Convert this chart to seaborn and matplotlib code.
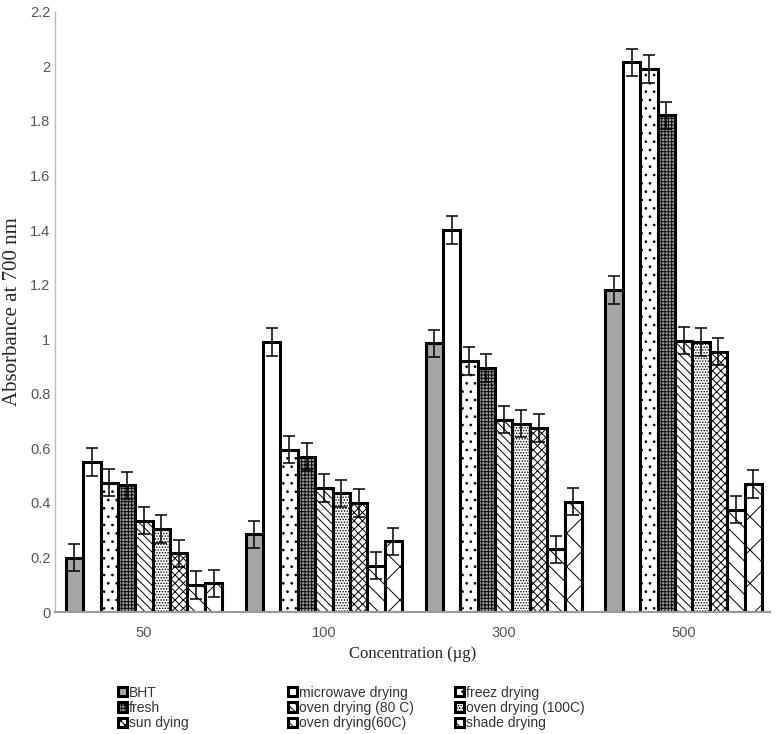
import pandas as pd
import numpy as np
import matplotlib
matplotlib.use("Agg")
import matplotlib.pyplot as plt
import seaborn as sns
from matplotlib.ticker import FuncFormatter, MultipleLocator

# Data
concentrations = ["50", "100", "300", "500"]
treatments = ["BHT", "microwave drying", "freez drying", "fresh", "oven drying (80 C)",
              "oven drying (100C)", "sun dying", "oven drying(60C)", "shade drying"]

bht = [0.20, 0.285, 0.985, 1.18]
microwave = [0.55, 0.99, 1.40, 2.015]
freez = [0.475, 0.595, 0.92, 1.99]
fresh = [0.465, 0.57, 0.895, 1.82]
oven80 = [0.335, 0.455, 0.705, 0.995]
oven100 = [0.305, 0.435, 0.69, 0.99]
sun = [0.215, 0.40, 0.675, 0.955]
oven60 = [0.10, 0.17, 0.23, 0.375]
shade = [0.105, 0.26, 0.405, 0.47]
errors = [0.05, 0.05, 0.05, 0.05]

series = [bht, microwave, freez, fresh, oven80, oven100, sun, oven60, shade]

faces = ["#a6a6a6", "white", "white", "#a0a0a0", "white", "white", "white", "white", "white"]
hatches = [None, None, "..", "+++++", "\\\\\\\\", "......", "xxxx", "\\\\", "x"]

rows = []
for name, vals in zip(treatments, series):
    for c, v in zip(concentrations, vals):
        rows.append({"conc": c, "treatment": name, "value": v})
df = pd.DataFrame(rows)

sns.set_theme(style="white")
plt.rcParams["hatch.linewidth"] = 0.7

fig = plt.figure(figsize=(7.77, 7.34), dpi=100)
ax = fig.add_axes([0.071, 0.166, 0.92, 0.818])

sns.barplot(data=df, x="conc", y="value", hue="treatment", order=concentrations,
            hue_order=treatments, palette=faces, edgecolor="black", linewidth=2.2,
            width=0.87, errorbar=None, saturation=1, ax=ax, legend=False)

handles = []
for cont, face, h in zip(ax.containers, faces, hatches):
    for bar in cont:
        bar.set_facecolor(face)
        bar.set_hatch(h)
    xs = [b.get_x() + b.get_width() / 2 for b in cont]
    ys = [b.get_height() for b in cont]
    ax.errorbar(xs, ys, yerr=errors, fmt="none", ecolor="black", elinewidth=1.1,
                capsize=4, capthick=1.1, zorder=5)
    handles.append(cont[0])

ax.set_ylim(0, 2.2)
ax.set_xlim(-0.494, 3.48)
ax.yaxis.set_major_locator(MultipleLocator(0.2))
ax.yaxis.set_major_formatter(FuncFormatter(lambda v, p: f"{v:g}"))
ax.tick_params(axis="both", length=0, labelsize=10.5, labelcolor="#555555")
ax.tick_params(axis="x", pad=10)
for lab in ax.get_xticklabels() + ax.get_yticklabels():
    lab.set_fontfamily("Liberation Sans")

for s in ["top", "right"]:
    ax.spines[s].set_visible(False)
ax.spines["left"].set_color("#bbbbbb")
ax.spines["left"].set_linewidth(1.0)
ax.spines["bottom"].set_color("#999999")
ax.spines["bottom"].set_linewidth(1.5)

ax.set_ylabel("Absorbance at 700 nm", fontsize=15, fontfamily="Liberation Serif", labelpad=6)
ax.set_xlabel("Concentration (µg)", fontsize=12, fontfamily="Liberation Serif", labelpad=4)

# legend: three columns of three, filled row by row
col_x = [0.152, 0.371, 0.586]
for i, x in enumerate(col_x):
    idx = [i, i + 3, i + 6]
    leg = fig.legend([handles[k] for k in idx], [treatments[k] for k in idx],
                     loc="upper left", bbox_to_anchor=(x, 0.066), frameon=False,
                     handlelength=0.65, handleheight=0.65, handletextpad=0.15,
                     labelspacing=0.1, borderaxespad=0, borderpad=0,
                     prop={"family": "Liberation Sans", "size": 10})
    for t in leg.get_texts():
        t.set_color("#333333")

fig.savefig("out.png", dpi=100)
